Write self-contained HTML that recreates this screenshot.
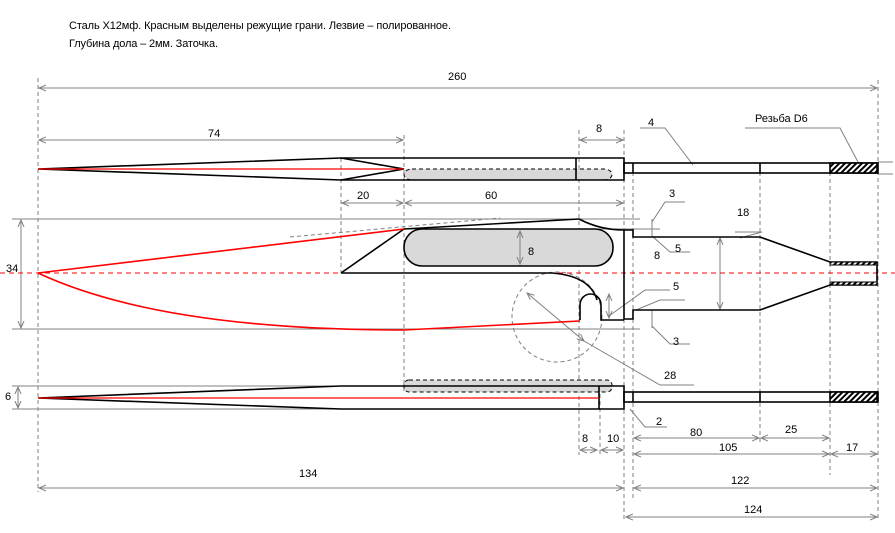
<!DOCTYPE html>
<html><head><meta charset="utf-8"><style>
html,body{margin:0;padding:0;background:#fff;}
svg{display:block;font-family:"Liberation Sans","DejaVu Sans",sans-serif;}
text{font-size:11px;fill:#000;}
</style></head><body>
<svg width="895" height="533" viewBox="0 0 895 533" xmlns="http://www.w3.org/2000/svg">
<defs>
<pattern id="h" width="4" height="4" patternUnits="userSpaceOnUse" patternTransform="rotate(45)"><rect width="4" height="4" fill="#fff"/><rect width="2" height="4" fill="#000"/></pattern>
<marker id="a" markerWidth="8" markerHeight="8" refX="7" refY="4" orient="auto-start-reverse" markerUnits="userSpaceOnUse"><path d="M0,1 L7,4 L0,7" fill="none" stroke="#808080" stroke-width="1"/></marker>
</defs>
<text x="69" y="29" textLength="382">Сталь Х12мф. Красным выделены режущие грани.  Лезвие – полированное.</text>
<text x="69" y="47" textLength="149">Глубина дола – 2мм. Заточка.</text>

<g stroke="#808080" stroke-dasharray="4,3" stroke-width="1" fill="none">
<line x1="38" y1="78" x2="38" y2="492"/>
<line x1="341" y1="158" x2="341" y2="273"/>
<line x1="404" y1="135" x2="404" y2="392"/>
<line x1="579" y1="130" x2="579" y2="455"/>
<line x1="600" y1="380" x2="600" y2="455"/>
<line x1="624" y1="130" x2="624" y2="522"/>
<line x1="633" y1="165" x2="633" y2="500"/>
<line x1="760" y1="165" x2="760" y2="445"/>
<line x1="830" y1="165" x2="830" y2="475"/>
<line x1="878" y1="80" x2="878" y2="520"/>
<line x1="290" y1="237" x2="500" y2="218"/>
<circle cx="557" cy="317" r="45"/>
</g>

<g stroke="#808080" stroke-width="1" fill="none">
<line x1="12" y1="219" x2="640" y2="219"/>
<line x1="12" y1="329" x2="640" y2="329"/>
<line x1="12" y1="386" x2="404" y2="386"/>
<line x1="12" y1="409" x2="404" y2="409"/>
<line x1="404" y1="229" x2="660" y2="229"/>
<line x1="878" y1="162" x2="893" y2="162"/>
<line x1="878" y1="174" x2="893" y2="174"/>
</g>

<g stroke="#808080" stroke-width="1" fill="none" marker-start="url(#a)" marker-end="url(#a)">
<line x1="39" y1="88" x2="877" y2="88"/>
<line x1="39" y1="140" x2="403" y2="140"/>
<line x1="580" y1="140" x2="623" y2="140"/>
<line x1="342" y1="203" x2="403" y2="203"/>
<line x1="405" y1="203" x2="623" y2="203"/>
<line x1="21" y1="220" x2="21" y2="328"/>
<line x1="18" y1="387" x2="18" y2="408"/>
<line x1="720" y1="238" x2="720" y2="309"/>
<line x1="609" y1="294" x2="609" y2="318"/>
<line x1="580" y1="450" x2="597" y2="450"/>
<line x1="601" y1="450" x2="623" y2="450"/>
<line x1="634" y1="438" x2="759" y2="438"/>
<line x1="761" y1="438" x2="829" y2="438"/>
<line x1="634" y1="454" x2="829" y2="454"/>
<line x1="831" y1="454" x2="877" y2="454"/>
<line x1="39" y1="488" x2="623" y2="488"/>
<line x1="634" y1="488" x2="877" y2="488"/>
<line x1="626" y1="517" x2="877" y2="517"/>
<line x1="527" y1="293" x2="584" y2="341"/>
</g>
<g stroke="#808080" stroke-width="1" fill="none">
<polyline points="640,128 665,128 693,165"/>
<polyline points="745,128 840,128 858,162"/>
<polyline points="685,202 665,202 652,222"/>
<polyline points="690,252 670,252 652,236"/>
<polyline points="735,232 762,232 740,238"/>
<polyline points="670,290 645,290 609,316"/>
<polyline points="685,300 660,300 636,310"/>
<polyline points="690,344 670,344 652,326"/>
<polyline points="694,385 660,385 584,341"/>
<polyline points="667,427 645,427 630,409"/>
<line x1="652" y1="219" x2="652" y2="236"/>
<line x1="652" y1="310" x2="652" y2="328"/>
</g>

<line x1="0" y1="273" x2="895" y2="273" stroke="#ff0000" stroke-dasharray="5,4" stroke-width="1"/>

<g stroke="#000" stroke-width="1.6" fill="none">
<rect x="404" y="169" width="208" height="11" rx="8" fill="#d9d9d9" stroke="#000" stroke-dasharray="4,3" stroke-width="1"/>
<polyline points="38,169 341,158 624,158 624,180 341,180 38,169"/>
<polyline points="341,158 404,169 341,180"/>
<line x1="576" y1="158" x2="576" y2="180"/>
<rect x="624" y="163" width="254" height="10"/>
<line x1="633" y1="163" x2="633" y2="173"/>
<line x1="760" y1="163" x2="760" y2="173"/>
<rect x="830" y="163" width="47" height="10" fill="url(#h)"/>
</g>
<line x1="38" y1="169" x2="404" y2="169" stroke="#ff0000" stroke-width="1.2"/>

<rect x="404" y="229" width="209" height="37" rx="18" fill="#d9d9d9" stroke="#000" stroke-width="1.6"/>
<line x1="520" y1="231" x2="520" y2="264" stroke="#808080" stroke-width="1" marker-start="url(#a)" marker-end="url(#a)"/>
<g stroke="#000" stroke-width="1.6" fill="none">
<polyline points="404,229 579,219"/>
<path d="M579,219 Q600,230 624,230"/>
<line x1="341" y1="273" x2="404" y2="229"/>
<path d="M341,273 L552,273 Q590,276 597,300"/>
<path d="M580,320 L580,305 A10.5,11 0 0 1 601,305 L601,320 L624,320"/>
<polyline points="624,230 633,230 633,237 760,237 830,262 877,262 877,285 830,285 760,310 633,310 633,319 624,319 624,230"/>
<rect x="830" y="262" width="47" height="3" fill="url(#h)" stroke-width="1"/>
<rect x="830" y="282" width="47" height="3" fill="url(#h)" stroke-width="1"/>
</g>
<g stroke="#ff0000" stroke-width="1.6" fill="none">
<line x1="38" y1="273" x2="404" y2="229"/>
<path d="M38,273 Q160,330 404,330 L580,321"/>
</g>

<g stroke="#000" stroke-width="1.6" fill="none">
<rect x="404" y="380" width="208" height="12" rx="5" fill="#d9d9d9" stroke="#000" stroke-dasharray="4,3" stroke-width="1"/>
<polyline points="38,398 341,386 624,386 624,409 341,409 38,398"/>
<line x1="599" y1="386" x2="599" y2="409"/>
<rect x="624" y="392" width="254" height="10"/>
<line x1="633" y1="392" x2="633" y2="402"/>
<line x1="760" y1="392" x2="760" y2="402"/>
<rect x="830" y="392" width="47" height="10" fill="url(#h)"/>
</g>
<line x1="38" y1="398" x2="599" y2="398" stroke="#ff0000" stroke-width="1.2"/>

<text x="448" y="80">260</text>
<text x="208" y="137">74</text>
<text x="596" y="132">8</text>
<text x="648" y="126">4</text>
<text x="755" y="122">Резьба D6</text>
<text x="357" y="199">20</text>
<text x="485" y="199">60</text>
<text x="669" y="197">3</text>
<text x="737" y="216">18</text>
<text x="6" y="272">34</text>
<text x="528" y="255">8</text>
<text x="675" y="252">5</text>
<text x="654" y="259">8</text>
<text x="673" y="290">5</text>
<text x="673" y="345">3</text>
<text x="664" y="379">28</text>
<text x="5" y="400">6</text>
<text x="656" y="425">2</text>
<text x="690" y="436">80</text>
<text x="785" y="433">25</text>
<text x="582" y="442">8</text>
<text x="607" y="442">10</text>
<text x="719" y="451">105</text>
<text x="846" y="451">17</text>
<text x="299" y="477">134</text>
<text x="731" y="484">122</text>
<text x="744" y="513">124</text>
</svg>
</body></html>
